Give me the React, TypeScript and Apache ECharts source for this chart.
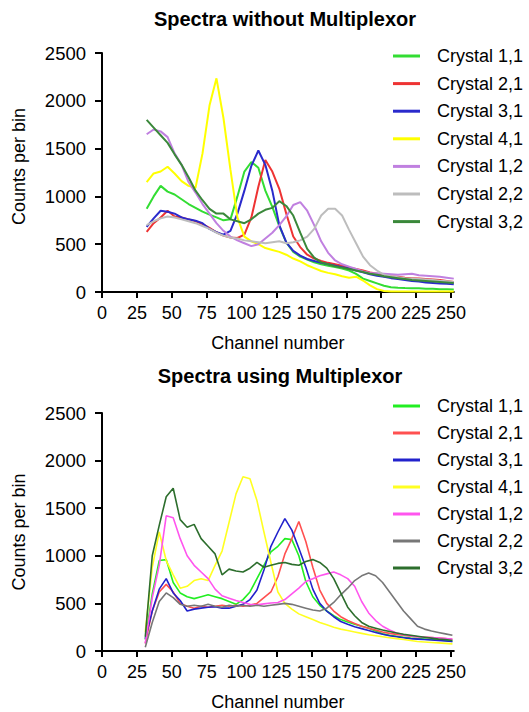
import React, { useEffect, useRef } from 'react';
import * as echarts from 'echarts';

const crystalNames = ['Crystal 1,1', 'Crystal 2,1', 'Crystal 3,1', 'Crystal 4,1', 'Crystal 1,2', 'Crystal 2,2', 'Crystal 3,2'];
const xTickValues = [0, 25, 50, 75, 100, 125, 150, 175, 200, 225, 250];

// Top chart: Spectra without Multiplexor
const topChannels = [32, 37, 42, 47, 52, 57, 62, 67, 72, 77, 82, 87, 92, 97, 102, 107, 112, 117, 122, 127, 132, 137, 142, 147, 152, 157, 162, 167, 172, 177, 182, 187, 192, 197, 202, 207, 212, 217, 222, 227, 232, 237, 242, 247, 252];
const topC11 = [870, 1000, 1110, 1050, 1020, 970, 920, 880, 840, 810, 780, 750, 760, 1000, 1260, 1360, 1300, 1060, 890, 690, 520, 420, 370, 340, 310, 290, 275, 260, 245, 225, 190, 140, 115, 90, 65, 50, 45, 42, 40, 38, 35, 33, 30, 28, 25];
const topC21 = [630, 720, 780, 850, 790, 780, 760, 740, 710, 670, 625, 590, 570, 565, 600, 780, 1100, 1380, 1260, 1080, 820, 580, 470, 390, 350, 325, 305, 290, 275, 255, 240, 225, 205, 190, 175, 165, 160, 150, 145, 140, 135, 130, 125, 115, 105];
const topC31 = [680, 770, 850, 840, 820, 780, 760, 745, 720, 660, 625, 600, 640, 820, 1060, 1320, 1480, 1330, 1060, 700, 520, 430, 380, 345, 325, 305, 290, 275, 260, 245, 225, 205, 185, 170, 160, 145, 135, 125, 115, 110, 100, 95, 90, 85, 80];
const topC41 = [1150, 1240, 1260, 1310, 1240, 1160, 1110, 1090, 1450, 1950, 2235, 1820, 1280, 780, 580, 530, 500, 460, 440, 420, 390, 350, 320, 280, 250, 220, 200, 185, 165, 150, 160, 120, 70, 30, 10, 5, 5, 5, 5, 5, 5, 5, 5, 5, 5];
const topC12 = [1650, 1700, 1680, 1620, 1450, 1330, 1150, 1040, 920, 820, 720, 640, 580, 540, 510, 480, 500, 560, 620, 700, 790, 910, 940, 850, 700, 530, 410, 330, 290, 265, 240, 215, 200, 195, 190, 185, 180, 185, 190, 175, 170, 165, 160, 150, 140];
const topC22 = [700, 740, 770, 790, 780, 760, 740, 720, 690, 660, 620, 590, 570, 560, 540, 530, 520, 510, 520, 530, 510, 520, 540, 580, 660, 800, 870, 870, 800, 650, 510, 370, 280, 225, 180, 165, 155, 145, 140, 135, 130, 125, 118, 112, 105];
const topC32 = [1800, 1720, 1640, 1560, 1440, 1330, 1200, 1060, 960, 870, 820, 820, 760, 740, 720, 760, 820, 860, 880, 950, 900, 800, 620, 450, 360, 310, 290, 270, 255, 240, 225, 210, 190, 180, 165, 155, 145, 135, 125, 120, 115, 110, 105, 100, 95];

// Bottom chart: Spectra using Multiplexor
const bottomChannels = [31, 36, 41, 46, 51, 56, 61, 66, 71, 76, 81, 86, 91, 96, 101, 106, 111, 116, 121, 126, 131, 136, 141, 146, 151, 156, 161, 166, 171, 176, 181, 186, 191, 196, 201, 206, 211, 216, 221, 226, 231, 236, 241, 246, 251];
const botC11 = [120, 600, 950, 960, 720, 610, 570, 550, 570, 590, 570, 550, 520, 490, 540, 620, 760, 900, 1040, 1100, 1180, 1170, 1000, 730, 570, 480, 420, 370, 330, 305, 280, 260, 240, 210, 180, 165, 155, 145, 135, 130, 125, 120, 115, 110, 100];
const botC21 = [80, 420, 620, 700, 620, 500, 470, 450, 470, 460, 470, 480, 470, 480, 470, 480, 500, 560, 620, 780, 1020, 1180, 1360, 1150, 880, 640, 500, 420, 360, 320, 290, 260, 240, 220, 200, 185, 175, 165, 155, 150, 145, 140, 135, 130, 120];
const botC31 = [130, 420, 650, 760, 610, 530, 420, 440, 450, 460, 465, 450, 450, 470, 490, 540, 640, 850, 1100, 1250, 1390, 1270, 1080, 880, 650, 500, 420, 360, 310, 280, 255, 235, 215, 195, 175, 160, 150, 140, 130, 125, 120, 115, 110, 105, 100];
const botC41 = [200, 880, 1250, 950, 800, 660, 680, 740, 760, 740, 900, 1050, 1350, 1650, 1830, 1810, 1580, 1250, 930, 620, 500, 440, 390, 360, 330, 300, 275, 250, 230, 215, 200, 185, 170, 160, 150, 140, 130, 120, 110, 100, 95, 90, 85, 80, 75];
const botC12 = [80, 560, 900, 1420, 1400, 1180, 1000, 900, 830, 760, 650, 580, 555, 530, 510, 490, 485, 495, 505, 510, 540, 600, 660, 730, 760, 790, 810, 830, 800, 760, 680, 520, 400, 320, 260, 220, 190, 170, 160, 150, 145, 140, 135, 130, 125];
const botC22 = [40, 300, 520, 610, 560, 490, 470, 480, 470, 490, 470, 460, 480, 470, 480, 470, 480, 470, 480, 490, 500, 490, 470, 450, 430, 420, 450, 510, 590, 660, 740, 790, 820, 790, 720, 620, 520, 420, 340, 260, 230, 210, 195, 180, 165];
const botC32 = [150, 1000, 1320, 1620, 1710, 1380, 1300, 1330, 1180, 1100, 1020, 800, 860, 840, 830, 870, 930, 880, 900, 920, 930, 910, 900, 940, 960, 930, 870, 760, 610, 460, 370, 300, 260, 240, 220, 205, 190, 175, 165, 155, 145, 135, 125, 120, 110];

const topColors = ['#33dd33', '#ee3333', '#2a2acc', '#ffff00', '#c080e0', '#bdbdbd', '#3a883a'];
const bottomColors = ['#22ee22', '#ff5050', '#2222cc', '#ffff22', '#ff55ee', '#777777', '#2d6e2d'];

const FONT = '"Liberation Sans", Arial, sans-serif';

function makeXAxis(gridIndex: number) {
  return {
    type: 'value',
    gridIndex,
    min: 0,
    max: 252,
    interval: 25,
    name: 'Channel number',
    nameLocation: 'middle',
    nameGap: 42,
    nameTextStyle: { fontSize: 18, color: '#000', fontFamily: FONT },
    axisLine: { show: true, lineStyle: { color: '#000', width: 2 } },
    axisTick: { show: true, inside: false, length: 6, customValues: xTickValues, lineStyle: { color: '#000', width: 2 } },
    axisLabel: { customValues: xTickValues, fontSize: 18, color: '#000', margin: 12, fontFamily: FONT },
    splitLine: { show: false },
  };
}

function makeYAxis(gridIndex: number, namePad: number) {
  return {
    type: 'value',
    gridIndex,
    min: 0,
    max: 2500,
    interval: 500,
    name: 'Counts per bin',
    nameLocation: 'middle',
    nameGap: 74,
    nameRotate: 90,
    nameTextStyle: { fontSize: 18, color: '#000', fontFamily: FONT, padding: [0, 0, 0, namePad] },
    axisLine: { show: true, lineStyle: { color: '#000', width: 2 } },
    axisTick: { show: true, inside: false, length: 7, lineStyle: { color: '#000', width: 2 } },
    axisLabel: { fontSize: 18.5, color: '#000', margin: 16, fontFamily: FONT, formatter: (v: number) => String(v) },
    splitLine: { show: false },
  };
}

function makeSeries(channels: number[], values: number[][], colors: string[], idx: number, width: number) {
  return values.map((vals, i) => ({
    type: 'line',
    name: crystalNames[i],
    xAxisIndex: idx,
    yAxisIndex: idx,
    data: channels.map((c, j) => [c, vals[j]]),
    showSymbol: false,
    symbol: 'none',
    lineStyle: { color: colors[i], width },
    itemStyle: { color: colors[i] },
    silent: true,
  }));
}

function makeLegend(top: number, colors: string[], gap: number) {
  return {
    orient: 'vertical',
    left: 393,
    top,
    padding: 0,
    itemWidth: 27,
    itemHeight: 3,
    itemGap: gap,
    icon: 'rect',
    data: crystalNames.map((n, i) => ({ name: n, itemStyle: { color: colors[i], borderWidth: 0 } })),
    textStyle: { fontSize: 18, lineHeight: 18, color: '#000', fontFamily: FONT, padding: [0, 0, 0, 12] },
    selectedMode: false,
  };
}

export default function App() {
  const ref = useRef<HTMLDivElement>(null);
  useEffect(() => {
    document.body.style.margin = '0';
    if (!ref.current) return;
    const chart = echarts.init(ref.current, undefined, { renderer: 'svg' });
    const option = {
      animation: false,
      backgroundColor: '#fff',
      textStyle: { fontFamily: FONT, color: '#000' },
      graphic: [
        {
          type: 'text', x: 285, y: 19,
          style: { text: 'Spectra without Multiplexor', fontSize: 20, fontWeight: 'bold', fontFamily: FONT, fill: '#000', align: 'center', verticalAlign: 'middle' },
        },
        {
          type: 'text', x: 280, y: 376,
          style: { text: 'Spectra using Multiplexor', fontSize: 20, fontWeight: 'bold', fontFamily: FONT, fill: '#000', align: 'center', verticalAlign: 'middle' },
        },
      ],
      grid: [
        { left: 102, top: 53, width: 252 * 1.396, height: 239, containLabel: false },
        { left: 102, top: 413, width: 252 * 1.396, height: 240, containLabel: false },
      ],
      xAxis: [makeXAxis(0), makeXAxis(1)],
      yAxis: [makeYAxis(0, 12), makeYAxis(1, 0)],
      legend: [makeLegend(47, topColors, 9.6), makeLegend(397, bottomColors, 9)],
      series: [
        ...makeSeries(topChannels, [topC11, topC21, topC31, topC41, topC12, topC22, topC32], topColors, 0, 2),
        ...makeSeries(bottomChannels, [botC11, botC21, botC31, botC41, botC12, botC22, botC32], bottomColors, 1, 1.6),
      ],
    };
    chart.setOption(option as any);
    return () => chart.dispose();
  }, []);
  return <div ref={ref} style={{ width: 529, height: 712 }} />;
}
